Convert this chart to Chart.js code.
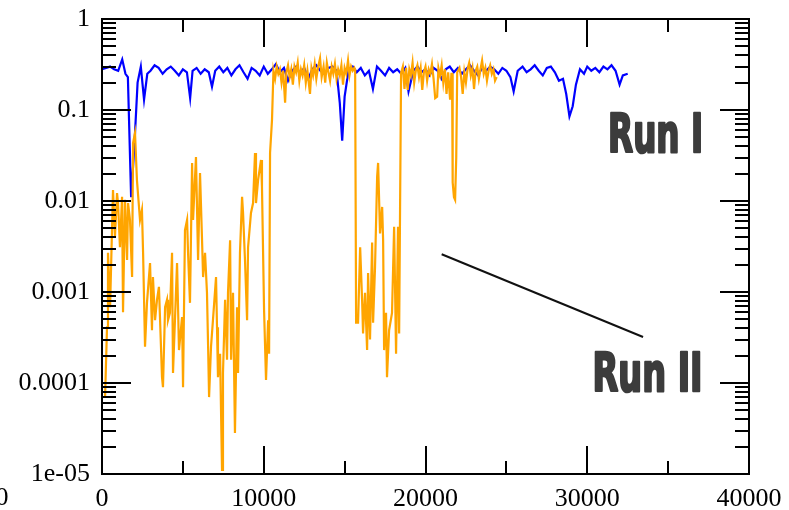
<!DOCTYPE html>
<html>
<head>
<meta charset="utf-8">
<script src="https://cdn.jsdelivr.net/npm/chart.js@4"></script>
<style>
  body { margin: 0; background: #fff; }
  canvas { display: block; }
</style>
</head>
<body>
<canvas id="chart" width="789" height="510"></canvas>
<script>
// Axis ticks
const xTicks = [0, 10000, 20000, 30000, 40000];
const yTicks = [1e-5, 1e-4, 1e-3, 1e-2, 1e-1, 1];
const yTickLabels = ["1e-05", "0.0001", "0.001", "0.01", "0.1", "1"];

// Run I (blue)
const runIX = [
  0, 250, 500, 750, 1000, 1250, 1450, 1600, 1800, 2000,
  2200, 2400, 2600, 2800, 3000, 3250, 3500, 3750, 4000, 4250,
  4500, 4750, 5000, 5250, 5450, 5600, 5850, 6100, 6350, 6600,
  6800, 7000, 7250, 7500, 7750, 8000, 8250, 8500, 8750, 9000,
  9250, 9500, 9750, 10000, 10250, 10500, 10750, 11000, 11250, 11500,
  11750, 12000, 12250, 12500, 12750, 13000, 13250, 13500, 13750, 14000,
  14250, 14500, 14700, 14850, 15000, 15250, 15500, 15750, 16000, 16250,
  16500, 16750, 17000, 17250, 17500, 17750, 18000, 18250, 18500, 18750,
  18950, 19250, 19500, 19750, 20000, 20250, 20500, 20750, 21000, 21250,
  21500, 21750, 22000, 22250, 22500, 22750, 23000, 23250, 23500, 23750,
  24000, 24250, 24500, 24750, 25000, 25250, 25450, 25700, 26000, 26250,
  26500, 26750, 27000, 27250, 27500, 27750, 28000, 28250, 28500, 28700,
  28900, 29100, 29300, 29550, 29800, 30000, 30250, 30500, 30750, 31000,
  31250, 31500, 31750, 32000, 32200, 32500
];
const runIY = [
  0.28, 0.29, 0.30, 0.28, 0.27, 0.36, 0.25, 0.23, 0.011, 0.04,
  0.20, 0.30, 0.13, 0.25, 0.27, 0.31, 0.29, 0.25, 0.28, 0.30,
  0.27, 0.24, 0.28, 0.26, 0.135, 0.27, 0.29, 0.25, 0.28, 0.26,
  0.18, 0.27, 0.30, 0.26, 0.29, 0.24, 0.28, 0.31, 0.26, 0.22,
  0.29, 0.27, 0.24, 0.30, 0.25, 0.28, 0.32, 0.26, 0.29, 0.21,
  0.27, 0.30, 0.25, 0.29, 0.22, 0.28, 0.31, 0.27, 0.25, 0.29,
  0.30, 0.27, 0.12, 0.046, 0.14, 0.28, 0.30, 0.26, 0.29, 0.24,
  0.27, 0.17, 0.30, 0.27, 0.24, 0.29, 0.26, 0.28, 0.25, 0.29,
  0.16, 0.27, 0.30, 0.26, 0.28, 0.24, 0.29, 0.27, 0.22, 0.28,
  0.30, 0.26, 0.29, 0.25, 0.28, 0.31, 0.27, 0.24, 0.29, 0.27,
  0.30, 0.28, 0.25, 0.29, 0.27, 0.23, 0.16, 0.27, 0.30, 0.26,
  0.28, 0.31, 0.27, 0.24, 0.29, 0.30, 0.26, 0.21, 0.22, 0.15,
  0.085, 0.11, 0.19, 0.28, 0.25, 0.30, 0.27, 0.29, 0.26, 0.30,
  0.28, 0.31, 0.27, 0.19, 0.24, 0.25
];

// Run II (orange)
const runIIX = [
  190, 310, 370, 500, 680, 800, 930, 990, 1110, 1240,
  1300, 1420, 1550, 1610, 1730, 1860, 1920, 2040, 2160, 2350,
  2470, 2540, 2660, 2780, 2970, 3090, 3150, 3280, 3400, 3520,
  3710, 3770, 3900, 4020, 4080, 4200, 4330, 4390, 4510, 4640,
  4760, 4950, 5010, 5130, 5260, 5320, 5440, 5570, 5630, 5810,
  5940, 6060, 6180, 6250, 6370, 6490, 6560, 6620, 6740, 6860,
  7050, 7110, 7170, 7300, 7420, 7480, 7610, 7730, 7790, 7920,
  7980, 8100, 8220, 8350, 8410, 8530, 8660, 8720, 8840, 8970,
  9030, 9210, 9340, 9460, 9520, 9650, 9830, 9890, 10020, 10140,
  10270, 10330, 10390, 10510, 10600, 10700, 10800, 10900, 11000, 11100,
  11200, 11320, 11400, 11500, 11600, 11700, 11800, 11900, 12000, 12100,
  12200, 12300, 12400, 12500, 12600, 12700, 12860, 12950, 13050, 13150,
  13250, 13350, 13480, 13580, 13700, 13800, 13900, 14000, 14100, 14200,
  14300, 14400, 14500, 14600, 14700, 14800, 14900, 15000, 15100, 15210,
  15300, 15400, 15500, 15600, 15650, 15710, 15830, 15960, 16080, 16140,
  16260, 16390, 16450, 16570, 16700, 16760, 16880, 17010, 17070, 17190,
  17320, 17380, 17440, 17560, 17620, 17750, 17930, 18060, 18180, 18300,
  18370, 18490, 18600, 18700, 18800, 18900, 19000, 19100, 19200, 19300,
  19400, 19500, 19600, 19700, 19800, 19900, 20000, 20100, 20200, 20300,
  20400, 20500, 20600, 20720, 20800, 20900, 21000, 21100, 21200, 21300,
  21400, 21520, 21600, 21640, 21680, 21760, 21830, 21900, 21960, 22100,
  22200, 22300, 22400, 22500, 22600, 22700, 22800, 22900, 23000, 23100,
  23200, 23300, 23400, 23500, 23600, 23700, 23800, 23900, 24000, 24100,
  24200, 24300, 24400
];
const runIIY = [
  0.00007, 0.00041, 0.0027, 0.00068, 0.0132, 0.0040, 0.0122, 0.0095, 0.0031, 0.0111,
  0.0006, 0.0103, 0.00225, 0.0095, 0.0062, 0.00146, 0.0434, 0.0559, 0.0170, 0.0062,
  0.0080, 0.0027, 0.00025, 0.00076, 0.00208, 0.00038, 0.00146, 0.00049, 0.00082, 0.00114,
  0.000116, 0.00009, 0.00068, 0.00082, 0.00049, 0.00059, 0.0027, 0.000129, 0.00049, 0.00208,
  0.00023, 0.00053, 0.00009, 0.0048, 0.0062, 0.0027, 0.00076, 0.0262, 0.0062, 0.0305,
  0.00225, 0.0203, 0.0040, 0.00146, 0.0027, 0.00098, 0.00025, 0.00007, 0.00025, 0.00049,
  0.00146, 0.00041, 0.000116, 0.00021, 0.0000111, 0.000129, 0.00082, 0.00018, 0.00098, 0.0037,
  0.00018, 0.00098, 0.0000282, 0.00068, 0.000129, 0.0027, 0.0111, 0.0074, 0.00225, 0.00049,
  0.0031, 0.0074, 0.0095, 0.0337, 0.0095, 0.0170, 0.0282, 0.0143, 0.00063, 0.000108,
  0.00049, 0.00021, 0.0337, 0.0777, 0.27, 0.22, 0.30, 0.25, 0.28, 0.20,
  0.27, 0.12, 0.26, 0.31, 0.23, 0.28, 0.19, 0.30, 0.26, 0.33,
  0.21, 0.28, 0.24, 0.31, 0.20, 0.27, 0.15, 0.29, 0.24, 0.32,
  0.22, 0.29, 0.37, 0.23, 0.30, 0.20, 0.33, 0.26, 0.21, 0.30,
  0.25, 0.32, 0.22, 0.28, 0.24, 0.31, 0.19, 0.29, 0.25, 0.35,
  0.24, 0.30, 0.27, 0.29, 0.275, 0.00046, 0.00046, 0.0031, 0.00082, 0.00035,
  0.00098, 0.00023, 0.00162, 0.00030, 0.0035, 0.00046, 0.00188, 0.0184, 0.0262, 0.0044,
  0.0086, 0.0037, 0.00023, 0.00059, 0.000116, 0.00038, 0.00059, 0.0052, 0.00021, 0.0052,
  0.00035, 0.255, 0.30, 0.17, 0.29, 0.166, 0.28, 0.24, 0.33, 0.20,
  0.27, 0.31, 0.23, 0.29, 0.166, 0.26, 0.30, 0.21, 0.28, 0.25,
  0.32, 0.22, 0.135, 0.14, 0.29, 0.24, 0.31, 0.20, 0.28, 0.15,
  0.26, 0.13, 0.25, 0.25, 0.016, 0.011, 0.0103, 0.03, 0.26, 0.29,
  0.23, 0.15, 0.26, 0.20, 0.28, 0.33, 0.24, 0.29, 0.17, 0.27,
  0.30, 0.22, 0.28, 0.35, 0.25, 0.29, 0.21, 0.27, 0.31, 0.25,
  0.28, 0.21, 0.23
];

// Callout labels, anchored in data coordinates
const calloutLine = [[21000, 0.0026], [33450, 0.00032]];
const runLabels = [
  { text: "Run I", x: 37200, y: 0.034, width: 95 },
  { text: "Run II", x: 37170, y: 0.00008, width: 110 }
];

function toPoints(xs, ys) {
  return xs.map((x, i) => ({ x: x, y: ys[i] }));
}

const serif = "'Liberation Serif', 'DejaVu Serif', serif";
Chart.defaults.font.family = serif;
Chart.defaults.font.size = 26;
Chart.defaults.color = "#000";

// Frame, inward ticks on all four sides, and the callouts
const framePlugin = {
  id: "frame",
  afterDatasetsDraw(chart) {
    const ctx = chart.ctx;
    const area = chart.chartArea;
    const xs = chart.scales.x;
    const ys = chart.scales.y;

    ctx.save();
    ctx.strokeStyle = "#000";
    ctx.lineWidth = 2;
    ctx.beginPath();

    // x ticks: major every 10000, minor at the halves
    for (let v = 0; v <= 40000; v += 5000) {
      const px = Math.round(xs.getPixelForValue(v));
      const len = v % 10000 === 0 ? 28 : 13;
      ctx.moveTo(px, area.bottom);
      ctx.lineTo(px, area.bottom - len);
      ctx.moveTo(px, area.top);
      ctx.lineTo(px, area.top + len);
    }

    // y ticks: decades long, 2..9 short
    yTicks.forEach((d) => {
      for (let m = 1; m <= 9; m++) {
        const v = d * m;
        if (v > 1) break;
        const py = Math.round(ys.getPixelForValue(v));
        const len = m === 1 ? 29 : 14;
        ctx.moveTo(area.left, py);
        ctx.lineTo(area.left + len, py);
        ctx.moveTo(area.right, py);
        ctx.lineTo(area.right - len, py);
      }
    });
    ctx.stroke();

    ctx.strokeRect(area.left, area.top, area.right - area.left, area.bottom - area.top);

    // pointer line between the two runs
    ctx.strokeStyle = "#111";
    ctx.lineWidth = 2;
    ctx.beginPath();
    ctx.moveTo(xs.getPixelForValue(calloutLine[0][0]), ys.getPixelForValue(calloutLine[0][1]));
    ctx.lineTo(xs.getPixelForValue(calloutLine[1][0]), ys.getPixelForValue(calloutLine[1][1]));
    ctx.stroke();

    // run labels, squeezed and thickened to a heavy condensed look
    ctx.fillStyle = "#3c3c3c";
    ctx.strokeStyle = "#3c3c3c";
    ctx.lineJoin = "round";
    ctx.font = "bold 53px 'DejaVu Sans Condensed', 'DejaVu Sans', sans-serif";
    ctx.textAlign = "right";
    ctx.textBaseline = "alphabetic";
    runLabels.forEach((l) => {
      const w = ctx.measureText(l.text).width;
      ctx.save();
      ctx.translate(xs.getPixelForValue(l.x), ys.getPixelForValue(l.y));
      ctx.scale(l.width / w, 1);
      ctx.lineWidth = 2.5;
      ctx.strokeText(l.text, -1, -1);
      ctx.fillText(l.text, -1, -1);
      ctx.restore();
    });

    // leftover tick label at the left edge
    ctx.fillStyle = "#000";
    ctx.font = "26px " + serif;
    ctx.textAlign = "center";
    ctx.textBaseline = "middle";
    ctx.fillText("0", 2, 498);
    ctx.restore();
  }
};

new Chart(document.getElementById("chart"), {
  type: "line",
  data: {
    datasets: [
      {
        label: "Run II",
        data: toPoints(runIIX, runIIY),
        borderColor: "#ffa500",
        borderWidth: 2.2,
        pointRadius: 0,
        tension: 0,
        order: 0
      },
      {
        label: "Run I",
        data: toPoints(runIX, runIY),
        borderColor: "#0000ff",
        borderWidth: 2.2,
        pointRadius: 0,
        tension: 0,
        order: 1
      }
    ]
  },
  options: {
    responsive: false,
    animation: false,
    layout: { padding: { top: 19, right: 40, left: 0, bottom: 0 } },
    plugins: {
      legend: { display: false },
      tooltip: { enabled: false }
    },
    scales: {
      x: {
        type: "linear",
        min: 0,
        max: 40000,
        grid: { display: false, drawTicks: false },
        border: { display: false },
        afterBuildTicks: (s) => {
          s.ticks = xTicks.map((v) => ({ value: v }));
        },
        afterFit: (s) => {
          s.height = 36;
          s.paddingLeft = 0;
          s.paddingRight = 0;
        },
        ticks: {
          padding: 10,
          maxRotation: 0,
          callback: (v) => String(v)
        }
      },
      y: {
        type: "logarithmic",
        min: 1e-5,
        max: 1,
        grid: { display: false, drawTicks: false },
        border: { display: false },
        afterBuildTicks: (s) => {
          s.ticks = yTicks.map((v) => ({ value: v }));
        },
        afterFit: (s) => {
          s.width = 102;
          s.paddingTop = 0;
          s.paddingBottom = 0;
        },
        ticks: {
          padding: 12,
          callback: (v) => yTickLabels[yTicks.indexOf(v)]
        }
      }
    }
  },
  plugins: [framePlugin]
});
</script>
</body>
</html>
